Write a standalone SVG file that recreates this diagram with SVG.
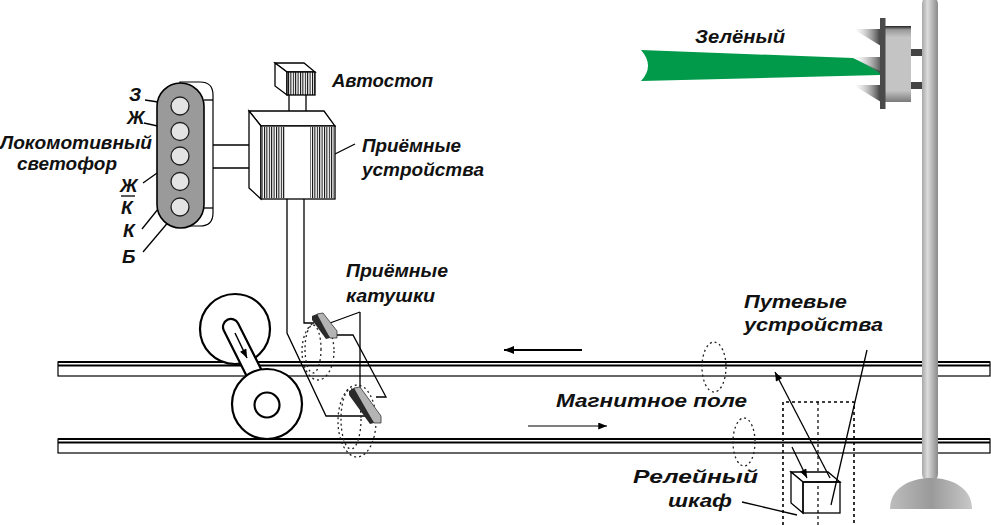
<svg xmlns="http://www.w3.org/2000/svg" width="991" height="525" viewBox="0 0 991 525">
<style>
.t{font-family:"Liberation Sans",Arial,sans-serif;font-weight:bold;font-style:italic;font-size:19px;fill:#111}
.tn{font-family:"Liberation Sans",Arial,sans-serif;font-style:italic;font-weight:bold;font-size:18px;fill:#111}
.ln{fill:none;stroke:#000;stroke-width:1.3}
.w{fill:#fff;stroke:#000;stroke-width:1.3}
.wh{fill:#fff;stroke:#000;stroke-width:2.2}
.dot{fill:none;stroke:#222;stroke-width:1.3;stroke-dasharray:2 3}
.lamp{fill:#e4e4e4;stroke:#222;stroke-width:1.3}
</style>
<defs>
<pattern id="hatch" width="2.4" height="10" patternUnits="userSpaceOnUse"><rect width="2.4" height="10" fill="#fff"/><rect x="0" y="0" width="1" height="10" fill="#000"/></pattern>
<linearGradient id="pole" x1="0" y1="0" x2="1" y2="0"><stop offset="0" stop-color="#a8a8a8"/><stop offset="0.35" stop-color="#dcdcdc"/><stop offset="1" stop-color="#8a8a8a"/></linearGradient>
<linearGradient id="dome" x1="0" y1="0" x2="1" y2="0"><stop offset="0" stop-color="#bdbdbd"/><stop offset="0.5" stop-color="#9a9a9a"/><stop offset="1" stop-color="#c8c8c8"/></linearGradient>
<linearGradient id="visor" x1="0" y1="0" x2="1" y2="0"><stop offset="0" stop-color="#ffffff" stop-opacity="0.2"/><stop offset="1" stop-color="#383838"/></linearGradient>
<linearGradient id="head" x1="0" y1="0" x2="0" y2="1"><stop offset="0" stop-color="#222"/><stop offset="0.05" stop-color="#9a9a9a"/><stop offset="0.15" stop-color="#c4c4c4"/><stop offset="0.85" stop-color="#c4c4c4"/><stop offset="1" stop-color="#7a7a7a"/></linearGradient>
<marker id="ah" viewBox="0 0 10 8" refX="10" refY="4" markerWidth="10" markerHeight="7" markerUnits="userSpaceOnUse" orient="auto"><path d="M0,0 L10,4 L0,8 Z" fill="#000"/></marker>
<marker id="ah2" viewBox="0 0 10 8" refX="10" refY="4" markerWidth="13" markerHeight="8" markerUnits="userSpaceOnUse" orient="auto"><path d="M0,0 L10,4 L0,8 Z" fill="#000"/></marker>
</defs>
<rect width="991" height="525" fill="#fff"/>

<g id="rails">
<rect x="58" y="362" width="932" height="14" fill="#fff" stroke="#000" stroke-width="1.2"/>
<line x1="58" y1="362" x2="990" y2="362" stroke="#000" stroke-width="2"/>
<line x1="58" y1="365.5" x2="990" y2="365.5" stroke="#000" stroke-width="2"/>
<rect x="58" y="439" width="932" height="14" fill="#fff" stroke="#000" stroke-width="1.2"/>
<line x1="58" y1="439" x2="990" y2="439" stroke="#000" stroke-width="2"/>
<line x1="58" y1="442.5" x2="990" y2="442.5" stroke="#000" stroke-width="2"/>
</g>

<g id="connectors">
<line class="ln" x1="213" y1="145" x2="253" y2="145"/>
<line class="ln" x1="213" y1="168" x2="253" y2="168"/>
<line class="ln" x1="289" y1="95" x2="289" y2="115"/>
<line class="ln" x1="306" y1="95" x2="306" y2="115"/>
<polyline class="ln" points="287,199 287,333 326,416 367,416"/>
<polyline class="ln" points="304,199 304,323 314,323"/>
<polyline class="ln" points="334,335 353,335 386,397 376,397"/>
<line class="ln" x1="360" y1="312" x2="330" y2="323"/>
<line class="ln" x1="360" y1="312" x2="360" y2="390"/>
<line class="ln" x1="335" y1="154" x2="355" y2="144"/>
<line x1="582" y1="350" x2="504" y2="350" stroke="#000" stroke-width="2" marker-end="url(#ah2)"/>
<line x1="528" y1="426" x2="607" y2="426" stroke="#000" stroke-width="1.1" marker-end="url(#ah)"/>
<line class="ln" x1="145" y1="100" x2="171" y2="104"/>
<line class="ln" x1="144" y1="123" x2="171" y2="129"/>
<line class="ln" x1="143" y1="183" x2="174" y2="161"/>
<line class="ln" x1="142" y1="229" x2="175" y2="188"/>
<line class="ln" x1="143" y1="252" x2="176" y2="213"/>
</g>

<g id="field">
<ellipse class="dot" cx="318" cy="351" rx="16" ry="29"/>
<ellipse class="dot" cx="313" cy="349" rx="8" ry="24"/>
<ellipse class="dot" cx="357" cy="421" rx="19" ry="36"/>
<ellipse class="dot" cx="351" cy="419" rx="10" ry="30"/>
<ellipse class="dot" cx="714" cy="367" rx="12" ry="25"/>
<ellipse class="dot" cx="744" cy="442" rx="11" ry="24"/>
</g>

<g id="loco-signal">
<path d="M180,82 L200,82 Q213,82 213,95 L213,213 Q213,226 200,226 L180,226 Z" fill="#fff" stroke="#000" stroke-width="1.2"/>
<line class="ln" x1="204" y1="100" x2="213" y2="100"/>
<line class="ln" x1="204" y1="208" x2="213" y2="208"/>
<rect x="157" y="83" width="47" height="145" rx="23.5" fill="#9a9a9a" stroke="#000" stroke-width="1.6"/>
<circle class="lamp" cx="180" cy="106" r="9"/>
<circle class="lamp" cx="180" cy="131.5" r="9"/>
<circle class="lamp" cx="180" cy="156" r="9"/>
<circle class="lamp" cx="180" cy="181.5" r="9"/>
<circle class="lamp" cx="180" cy="207" r="9"/>
<text class="t" x="0" y="149" textLength="152" lengthAdjust="spacingAndGlyphs">Локомотивный</text>
<text class="t" x="17" y="170" textLength="100" lengthAdjust="spacingAndGlyphs">светофор</text>
<text class="t" x="129" y="101">З</text>
<text class="t" x="127" y="124">Ж</text>
<text class="t" x="120" y="192">Ж</text>
<line x1="121" y1="196" x2="135" y2="196" stroke="#000" stroke-width="1.3"/>
<text class="t" x="121" y="214">К</text>
<text class="t" x="123" y="237">К</text>
<text class="t" x="122" y="263">Б</text>
</g>

<g id="autostop">
<polygon class="w" points="275,63 304,63 315,72 287,72"/>
<polygon class="w" points="275,63 287,72 287,95 275,86"/>
<rect x="287" y="72" width="28" height="23" fill="url(#hatch)" stroke="#000" stroke-width="1.3"/>
<text class="t" x="332" y="87" textLength="101" lengthAdjust="spacingAndGlyphs">Автостоп</text>
</g>

<g id="receiver">
<polygon class="w" points="249,111 324,111 335,126 261,126"/>
<polygon class="w" points="249,111 261,126 261,199 249,188"/>
<rect x="261" y="126" width="74" height="73" fill="#fff" stroke="#000" stroke-width="1.3"/>
<rect x="262" y="127" width="23" height="71" fill="url(#hatch)"/>
<rect x="310" y="127" width="24" height="71" fill="url(#hatch)"/>
<text class="t" x="362" y="152" textLength="99" lengthAdjust="spacingAndGlyphs">Приёмные</text>
<text class="t" x="362" y="176" textLength="122" lengthAdjust="spacingAndGlyphs">устройства</text>
</g>

<g id="wheels">
<circle class="wh" cx="235" cy="329" r="35"/>
<rect x="-8" y="-8" width="90" height="16" rx="8" class="wh" transform="translate(231,327) rotate(63.4)"/>
<line x1="235" y1="333" x2="247" y2="358" stroke="#000" stroke-width="1.5" marker-end="url(#ah)"/>
<circle class="wh" cx="267" cy="404" r="35"/>
<circle class="wh" cx="267" cy="405" r="12.5"/>
</g>

<g id="coils">
<polygon points="317,314 323,313 337,331 337,338 330,338 317,320" fill="#b4b4b4" stroke="#333" stroke-width="0.8"/>
<polygon points="312,316 317,314 330,338 326,339 312,320" fill="#2a2a2a"/>
<polygon points="354,388 360,387 381,416 381,423 374,423 354,394" fill="#b4b4b4" stroke="#333" stroke-width="0.8"/>
<polygon points="349,391 354,388 374,423 370,424 349,395" fill="#2a2a2a"/>
<text class="tn" x="346" y="277" textLength="102" lengthAdjust="spacingAndGlyphs">Приёмные</text>
<text class="tn" x="346" y="302" textLength="89" lengthAdjust="spacingAndGlyphs">катушки</text>
</g>

<g id="field-label">
<text class="t" x="556" y="407" textLength="191" lengthAdjust="spacingAndGlyphs">Магнитное поле</text>
</g>

<g id="relay-cabinet">
<path d="M783,525 L783,402 L854,402 L854,525" fill="none" stroke="#000" stroke-width="1.6" stroke-dasharray="3 3"/>
<line x1="818" y1="402" x2="818" y2="525" stroke="#000" stroke-width="1.2" stroke-dasharray="3 3"/>
<polygon class="w" points="791,472 828,472 840,482 803,482"/>
<polygon class="w" points="791,472 803,482 803,513 791,503"/>
<rect x="803" y="482" width="37" height="31" fill="none" stroke="#000" stroke-width="1.3"/>
<line class="ln" x1="792" y1="447" x2="807" y2="478" marker-end="url(#ah)"/>
<line class="ln" x1="830" y1="478" x2="775" y2="372" marker-end="url(#ah)"/>
<line class="ln" x1="867" y1="350" x2="831" y2="505"/>
<line class="ln" x1="742" y1="502" x2="797" y2="515"/>
<text class="t" x="744" y="308" textLength="103" lengthAdjust="spacingAndGlyphs">Путевые</text>
<text class="t" x="744" y="331" textLength="139" lengthAdjust="spacingAndGlyphs">устройства</text>
<text class="t" x="633" y="483" font-size="20" textLength="125" lengthAdjust="spacingAndGlyphs">Релейный</text>
<text class="t" x="668" y="507" font-size="20" textLength="64" lengthAdjust="spacingAndGlyphs">шкаф</text>
</g>

<g id="wayside-signal">
<rect x="922" y="-4" width="16" height="486" rx="8" fill="url(#pole)"/>
<path d="M890,509 C890,488 910,478 931,478 C952,478 972,488 972,509 Z" fill="url(#dome)"/>
<path d="M641,50 L853,58 L880,71 L880,75 L641,81 Q655,66 641,50 Z" fill="#009a4a"/>
<polygon points="853,29 881,29 881,46" fill="url(#visor)"/>
<polygon points="853,57 881,57 881,74" fill="url(#visor)" opacity="0.85"/>
<polygon points="853,85 881,85 881,102" fill="url(#visor)"/>
<rect x="885" y="26" width="26" height="76" fill="url(#head)"/>
<rect x="880" y="18" width="5.5" height="91" fill="#4a4a4a"/>
<rect x="911" y="49" width="11" height="7" fill="#444"/>
<rect x="911" y="82" width="11" height="7" fill="#444"/>
<text class="t" x="695" y="43" font-size="20" textLength="90" lengthAdjust="spacingAndGlyphs">Зелёный</text>
</g>
</svg>
